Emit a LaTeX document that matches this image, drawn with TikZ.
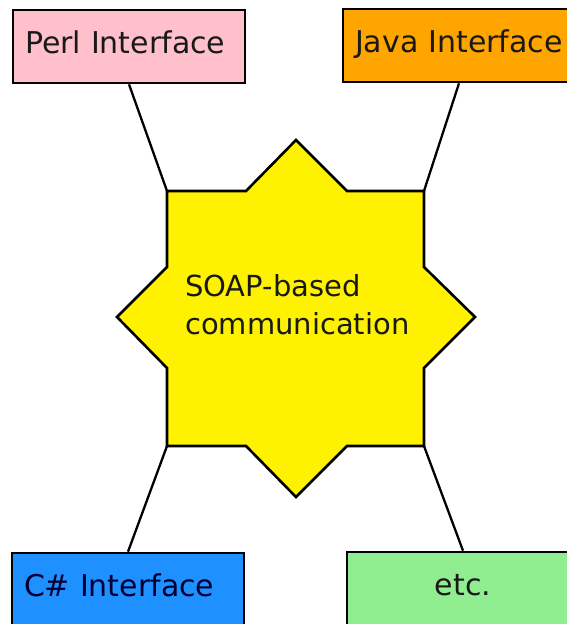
\documentclass[tikz,border=0pt]{standalone}
\usepackage{fontspec}
\setmainfont{DejaVu Sans}
\begin{document}
\begin{tikzpicture}[x=1pt,y=-1pt,
  ifacebox/.style={draw=black, line width=2.6pt, minimum width=232pt,
    minimum height=73pt, inner xsep=12pt, text width=208pt, align=left,
    text height=22pt, text depth=9pt, font=\fontsize{30}{36}\selectfont,
    text=black!90},
  link/.style={draw=black, line width=2.3pt}]
\useasboundingbox (0,0) rectangle (567,624);
\clip (0,0) rectangle (567,624);

% interface boxes
\node[ifacebox, fill={rgb,255:red,255;green,192;blue,203}] (perl) at (129,46.5) {Perl Interface};
\node[ifacebox, fill={rgb,255:red,255;green,165;blue,0}] (java) at (459,45.5) {Java Interface};
\node[ifacebox, fill={rgb,255:red,30;green,144;blue,255}, text=black!80!blue] (csharp) at (128,589.5) {C\# Interface};
\node[ifacebox, fill={rgb,255:red,144;green,238;blue,144}, align=center] (etc) at (463,588.5) {etc.};

% corners of the central star
\coordinate (nw) at (167,191);
\coordinate (ne) at (424,191);
\coordinate (se) at (424,446);
\coordinate (sw) at (167,446);

% connectors
\draw[link] (perl.south) -- (nw);
\draw[link] (java.south) -- (ne);
\draw[link] (csharp.north) -- (sw);
\draw[link] (etc.north) -- (se);

% eight-pointed star
\draw[fill=yellow, draw=black, line width=2.6pt, line join=miter]
  (nw) -- (246,191) -- (296,140) -- (347,191) -- (ne)
  -- (424,267) -- (475,317) -- (424,368) -- (se)
  -- (347,446) -- (296,497) -- (246,446) -- (sw)
  -- (167,368) -- (117,317) -- (167,267) -- cycle;

% the last line's baseline is the node's base
\node[anchor=base west, inner sep=0pt, align=left,
  font=\fontsize{29}{38}\selectfont, text=black!90] (soap) at (185,334)
  {SOAP-based\\communication};
\end{tikzpicture}
\end{document}
